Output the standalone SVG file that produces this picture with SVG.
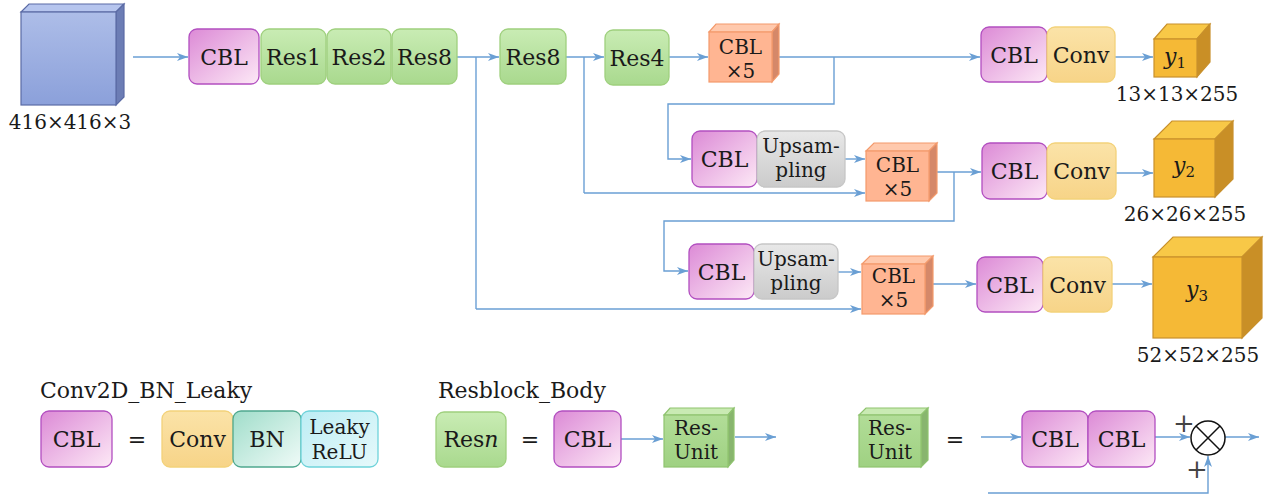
<svg xmlns="http://www.w3.org/2000/svg" width="1270" height="498" viewBox="0 0 1270 498" font-family="'DejaVu Serif',serif">
<style>
text{font-family:'DejaVu Serif',serif;font-size:22px;fill:#1a1a1a}
.c{text-anchor:middle}
.t2{font-size:20px}
.dim{font-size:20px}
.it{font-style:italic}
.cbl{fill:url(#gCBL);stroke:#b24fc0;stroke-width:1.3}
.res{fill:url(#gRes);stroke:#9fd07e;stroke-width:1.3}
.conv{fill:url(#gConv);stroke:#f3d27a;stroke-width:1.3}
.up{fill:url(#gUp);stroke:#c6c6c6;stroke-width:1.3}
.bn{fill:url(#gBN);stroke:#4fa88e;stroke-width:1.3}
.relu{fill:url(#gRelu);stroke:#6fd3da;stroke-width:1.3}
.sf{fill:#ffb592;stroke:#f39a6c;stroke-width:1.2}
.st{fill:#ffc9ad;stroke:#f39a6c;stroke-width:1.2}
.ss{fill:#d58869;stroke:#f39a6c;stroke-width:1.2}
.yf{fill:#f5b936;stroke:#c8902c;stroke-width:1.2}
.yt{fill:#f8c847;stroke:#c8902c;stroke-width:1.2}
.ys{fill:#c98f26;stroke:#c8902c;stroke-width:1.2}
.gf{fill:url(#gRU);stroke:#8fc36f;stroke-width:1.2}
.gt{fill:#c9eab3;stroke:#8fc36f;stroke-width:1.2}
.gs{fill:#88b56e;stroke:#8fc36f;stroke-width:1.2}
.ln{fill:none;stroke:#6a9fd4;stroke-width:1.4}
.ar{fill:none;stroke:#6a9fd4;stroke-width:1.4;marker-end:url(#ah)}
</style>
<defs>
<linearGradient id="gCBL" x1="0" y1="0" x2="1" y2="1"><stop offset="0" stop-color="#dc8ad6"/><stop offset="1" stop-color="#fde9f6"/></linearGradient>
<linearGradient id="gRes" x1="0" y1="0" x2="0" y2="1"><stop offset="0" stop-color="#c9ecb4"/><stop offset="1" stop-color="#a9d98e"/></linearGradient>
<linearGradient id="gConv" x1="0" y1="0" x2="0" y2="1"><stop offset="0" stop-color="#fbe3a8"/><stop offset="1" stop-color="#f7d488"/></linearGradient>
<linearGradient id="gUp" x1="0" y1="0" x2="0" y2="1"><stop offset="0" stop-color="#e8e8e8"/><stop offset="1" stop-color="#cbcbcb"/></linearGradient>
<linearGradient id="gBN" x1="0" y1="0" x2="1" y2="1"><stop offset="0" stop-color="#a0ddca"/><stop offset="1" stop-color="#f0fbf8"/></linearGradient>
<linearGradient id="gRelu" x1="0" y1="0" x2="1" y2="1"><stop offset="0" stop-color="#bdedf4"/><stop offset="1" stop-color="#e6f9fb"/></linearGradient>
<linearGradient id="gIn" x1="0" y1="0" x2="0" y2="1"><stop offset="0" stop-color="#adbde8"/><stop offset="1" stop-color="#8ba0da"/></linearGradient>
<linearGradient id="gRU" x1="0" y1="0" x2="0" y2="1"><stop offset="0" stop-color="#b2dd98"/><stop offset="1" stop-color="#9fd182"/></linearGradient>
<marker id="ah" markerUnits="userSpaceOnUse" markerWidth="12" markerHeight="10" refX="11" refY="5" orient="auto">
<path d="M0,1 L11,5 L0,9 L3,5 z" fill="#6a9fd4"/>
</marker>
</defs>

<g id="connectors">
<path class="ar" d="M133,57 H188"/>
<path class="ar" d="M457,57 H499"/>
<path class="ln" d="M476,57 V309"/>
<path class="ar" d="M476,309 H861"/>
<path class="ar" d="M566,57 H604"/>
<path class="ln" d="M584,57 V193"/>
<path class="ar" d="M584,193 H865"/>
<path class="ar" d="M669,57 H708"/>
<path class="ar" d="M779,57 H980"/>
<path class="ar" d="M834,57 V104 H668 V159 H691"/>
<path class="ar" d="M845,159 H865"/>
<path class="ar" d="M936,172 H981"/>
<path class="ar" d="M954,172 V221 H664 V271 H688"/>
<path class="ar" d="M838,272 H861"/>
<path class="ar" d="M933,284 H976"/>
<path class="ar" d="M1115,57 H1153"/>
<path class="ar" d="M1116,173 H1153"/>
<path class="ar" d="M1112,284 H1152"/>
<path class="ar" d="M621,439 H663"/>
<path class="ar" d="M735,437 H776"/>
<path class="ar" d="M981,437 H1021"/>
<path class="ar" d="M1155,437 H1190"/>
<path class="ar" d="M1225,437 H1259"/>
<path class="ar" d="M988,493 H1208 V456"/>
</g>

<g id="input">
<polygon points="21,12 29,4 124,4 116,12" fill="#b6c5ee" stroke="#5b6ba5" stroke-width="1.2"/>
<polygon points="116,12 124,4 124,97 116,105" fill="#6c7db5" stroke="#5b6ba5" stroke-width="1.2"/>
<rect x="21" y="12" width="95" height="93" fill="url(#gIn)" stroke="#5b6ba5" stroke-width="1.2"/>
<text class="c dim" x="70" y="129">416×416×3</text>
</g>

<g id="cbl1"><rect class="cbl" x="189" y="29" width="70" height="55" rx="8"/><text class="c" x="224" y="65">CBL</text></g>
<g id="res1"><rect class="res" x="261" y="29" width="65" height="55" rx="8"/><text class="c" x="293.5" y="65">Res1</text></g>
<g id="res2"><rect class="res" x="327" y="29" width="64" height="55" rx="8"/><text class="c" x="359" y="65">Res2</text></g>
<g id="res8a"><rect class="res" x="392" y="29" width="65" height="55" rx="8"/><text class="c" x="424.5" y="65">Res8</text></g>
<g id="res8b"><rect class="res" x="500" y="29" width="66" height="55" rx="8"/><text class="c" x="533" y="65">Res8</text></g>
<g id="res4"><rect class="res" x="605" y="30" width="64" height="55" rx="8"/><text class="c" x="637" y="66">Res4</text></g>

<g id="cbl5a">
<polygon class="st" points="709,32 716,24 779,24 772,32"/>
<polygon class="ss" points="772,32 779,24 779,74 772,82"/>
<rect class="sf" x="709" y="32" width="63" height="50"/>
<text class="c t2" x="740.5" y="54">CBL</text><text class="c t2" x="740.5" y="78">×5</text>
</g>

<g id="cbl_r1"><rect class="cbl" x="981" y="27" width="66" height="55" rx="8"/><text class="c" x="1014" y="63">CBL</text></g>
<g id="conv_r1"><rect class="conv" x="1047" y="27" width="68" height="55" rx="8"/><text class="c" x="1081" y="63">Conv</text></g>
<g id="y1">
<polygon class="yt" points="1154,39 1167,24 1210,24 1197,39"/>
<polygon class="ys" points="1197,39 1210,24 1210,62 1197,77"/>
<rect class="yf" x="1154" y="39" width="43" height="38"/>
<text class="c it" x="1175" y="64">y<tspan font-style="normal" font-size="15" dy="4">1</tspan></text>
<text class="c dim" x="1177" y="101">13×13×255</text>
</g>

<g id="cbl_u2"><rect class="cbl" x="692" y="131" width="65" height="56" rx="8"/><text class="c" x="724.5" y="167">CBL</text></g>
<g id="up2"><rect class="up" x="757" y="131" width="88" height="56" rx="8"/><text class="c t2" x="801" y="153">Upsam-</text><text class="c t2" x="801" y="177">pling</text></g>
<g id="cbl5b">
<polygon class="st" points="866,151 874,143 937,143 929,151"/>
<polygon class="ss" points="929,151 937,143 937,193 929,201"/>
<rect class="sf" x="866" y="151" width="63" height="50"/>
<text class="c t2" x="897.5" y="172">CBL</text><text class="c t2" x="897.5" y="196">×5</text>
</g>
<g id="cbl_r2"><rect class="cbl" x="982" y="143" width="65" height="56" rx="8"/><text class="c" x="1014.5" y="179">CBL</text></g>
<g id="conv_r2"><rect class="conv" x="1047" y="143" width="69" height="56" rx="8"/><text class="c" x="1081.5" y="179">Conv</text></g>
<g id="y2">
<polygon class="yt" points="1154,139 1172,121 1233,121 1215,139"/>
<polygon class="ys" points="1215,139 1233,121 1233,179 1215,197"/>
<rect class="yf" x="1154" y="139" width="61" height="58"/>
<text class="c it" x="1184" y="173">y<tspan font-style="normal" font-size="15" dy="4">2</tspan></text>
<text class="c dim" x="1185" y="221">26×26×255</text>
</g>

<g id="cbl_u3"><rect class="cbl" x="689" y="244" width="65" height="55" rx="8"/><text class="c" x="721.5" y="280">CBL</text></g>
<g id="up3"><rect class="up" x="754" y="244" width="84" height="55" rx="8"/><text class="c t2" x="796" y="266">Upsam-</text><text class="c t2" x="796" y="290">pling</text></g>
<g id="cbl5c">
<polygon class="st" points="862,264 870,256 933,256 925,264"/>
<polygon class="ss" points="925,264 933,256 933,306 925,314"/>
<rect class="sf" x="862" y="264" width="63" height="50"/>
<text class="c t2" x="893.5" y="283">CBL</text><text class="c t2" x="893.5" y="307">×5</text>
</g>
<g id="cbl_r3"><rect class="cbl" x="977" y="257" width="66" height="55" rx="8"/><text class="c" x="1010" y="293">CBL</text></g>
<g id="conv_r3"><rect class="conv" x="1043" y="257" width="69" height="55" rx="8"/><text class="c" x="1077.5" y="293">Conv</text></g>
<g id="y3">
<polygon class="yt" points="1153,257 1173,237 1262,237 1242,257"/>
<polygon class="ys" points="1242,257 1262,237 1262,318 1242,338"/>
<rect class="yf" x="1153" y="257" width="89" height="81"/>
<text class="c it" x="1197" y="297">y<tspan font-style="normal" font-size="15" dy="4">3</tspan></text>
<text class="c dim" x="1198" y="362">52×52×255</text>
</g>

<g id="legend_cbl">
<text x="40" y="398">Conv2D_BN_Leaky</text>
<rect class="cbl" x="41" y="411" width="71" height="56" rx="8"/><text class="c" x="76.5" y="447">CBL</text>
<text class="c" x="137" y="447">=</text>
<rect class="conv" x="162" y="411" width="71" height="56" rx="8"/><text class="c" x="197.5" y="447">Conv</text>
<rect class="bn" x="233" y="411" width="68" height="56" rx="8"/><text class="c" x="267" y="447">BN</text>
<rect class="relu" x="301" y="411" width="77" height="56" rx="8"/><text class="c t2" x="339.5" y="434">Leaky</text><text class="c t2" x="339.5" y="459">ReLU</text>
</g>

<g id="legend_res">
<text x="438" y="398">Resblock_Body</text>
<rect class="res" x="436" y="412" width="70" height="55" rx="8"/><text class="c" x="471" y="447">Res<tspan class="it">n</tspan></text>
<text class="c" x="530" y="447">=</text>
<rect class="cbl" x="554" y="411" width="67" height="56" rx="8"/><text class="c" x="587.5" y="447">CBL</text>
<polygon class="gt" points="664,415 670,408 734,408 728,415"/>
<polygon class="gs" points="728,415 734,408 734,460 728,467"/>
<rect class="gf" x="664" y="415" width="64" height="52"/>
<text class="c t2" x="696" y="435">Res-</text><text class="c t2" x="696" y="459">Unit</text>
</g>

<g id="legend_resunit">
<polygon class="gt" points="859,415 866,408 928,408 921,415"/>
<polygon class="gs" points="921,415 928,408 928,460 921,467"/>
<rect class="gf" x="859" y="415" width="62" height="52"/>
<text class="c t2" x="890" y="435">Res-</text><text class="c t2" x="890" y="459">Unit</text>
<text class="c" x="955" y="447">=</text>
<rect class="cbl" x="1022" y="411" width="66" height="56" rx="8"/><text class="c" x="1055" y="447">CBL</text>
<rect class="cbl" x="1088" y="411" width="67" height="56" rx="8"/><text class="c" x="1121.5" y="447">CBL</text>
<circle cx="1208" cy="438" r="17" fill="#fff" stroke="#111" stroke-width="1.5"/>
<path d="M1196,426 L1220,450 M1220,426 L1196,450" stroke="#111" stroke-width="1.5"/>
<text class="c" x="1184" y="432" style="fill:#444;font-size:26px">+</text>
<text class="c" x="1197" y="478" style="fill:#444;font-size:26px">+</text>
</g>
</svg>
